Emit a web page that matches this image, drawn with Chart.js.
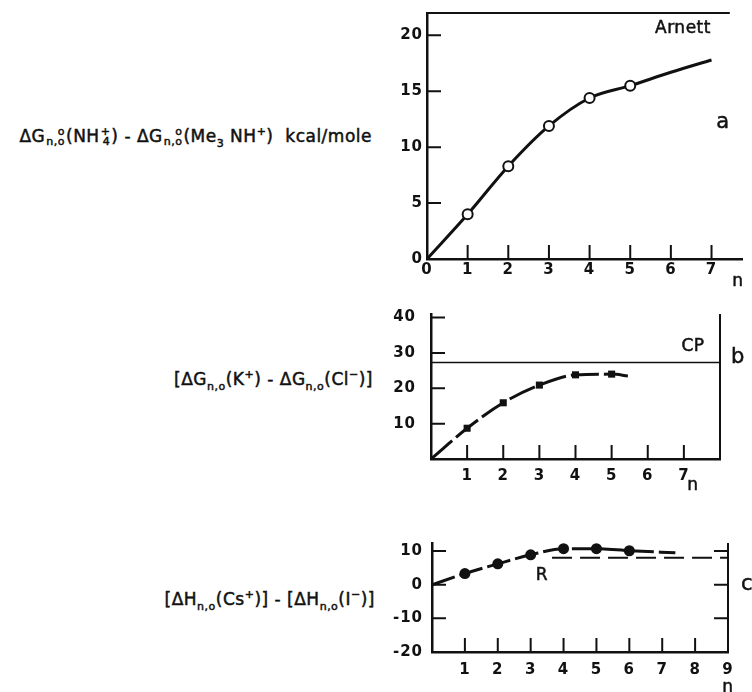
<!DOCTYPE html>
<html lang="en">
<head>
<meta charset="UTF-8">
<title>Hydration free energy differences</title>
<script src="https://cdn.jsdelivr.net/npm/chart.js@4"></script>
<style>
  body { margin: 0; background: #fff; }
  #wrap { position: relative; width: 752px; height: 692px; overflow: hidden; font-family: "DejaVu Sans", sans-serif; color: #111; -webkit-text-stroke: 0.5px #111; }
  canvas { position: absolute; }
  .lbl { position: absolute; white-space: nowrap; font-size: 17px; letter-spacing: 0.5px; transform: translateY(-50%); text-align: right; }
  .st { display: inline-flex; flex-direction: column; vertical-align: middle; font-size: 11px; line-height: 10px; margin: 0 1px; }
  .sb { font-size: 11px; vertical-align: -5px; }
  .sp { font-size: 11px; vertical-align: 7px; }
  .ann { position: absolute; font-size: 17px; letter-spacing: 0.5px; transform: translate(-50%, -50%); }
  .big { font-size: 21px; }
</style>
</head>
<body>
<div id="wrap">
  <canvas id="chartA" width="372" height="290" style="left:380px;top:0px"></canvas>
  <canvas id="chartB" width="372" height="200" style="left:380px;top:290px"></canvas>
  <canvas id="chartC" width="372" height="192" style="left:380px;top:500px"></canvas>

  <div class="lbl" style="right:380px;top:137px">ΔG<span class="st"><span>o</span><span>n,o</span></span>(NH<span class="st"><span>+</span><span>4</span></span>) - ΔG<span class="st"><span>o</span><span>n,o</span></span>(Me<span class="sb">3</span> NH<span class="sp">+</span>)&nbsp; kcal/mole</div>
  <div class="lbl" style="right:379px;top:380px">[ΔG<span class="sb">n,o</span>(K<span class="sp">+</span>) - ΔG<span class="sb">n,o</span>(Cl<span class="sp">−</span>)]</div>
  <div class="lbl" style="right:377px;top:600px">[ΔH<span class="sb">n,o</span>(Cs<span class="sp">+</span>)] - [ΔH<span class="sb">n,o</span>(I<span class="sp">−</span>)]</div>

  <div class="ann" style="left:683px;top:27px">Arnett</div>
  <div class="ann big" style="left:723px;top:121px">a</div>
  <div class="ann" style="left:738px;top:280px">n</div>
  <div class="ann" style="left:693px;top:345px">CP</div>
  <div class="ann big" style="left:738px;top:356px">b</div>
  <div class="ann" style="left:693px;top:484px">n</div>
  <div class="ann" style="left:542px;top:574px">R</div>
  <div class="ann big" style="left:747px;top:583px">c</div>
  <div class="ann" style="left:728px;top:686px">n</div>
</div>

<script>
// panel a: NH4+ vs Me3NH+ (Arnett)
const aCurveN = [0, 1, 2, 3, 4, 5, 6, 7];
const aCurveVal = [0, 4.0, 8.3, 11.9, 14.4, 15.5, 16.7, 17.8];
const aPointN = [1, 2, 3, 4, 5];
const aPointVal = [4.0, 8.3, 11.9, 14.4, 15.5];
const aXTicks = [0, 1, 2, 3, 4, 5, 6, 7];
const aYTicks = [0, 5, 10, 15, 20];

// panel b: K+ vs Cl-, CP level
const bCurveN = [0, 1, 2, 3, 4, 5, 5.45];
const bCurveVal = [0, 8.7, 15.9, 20.9, 23.8, 24.0, 23.5];
const bPointN = [1, 2, 3, 4, 5];
const bPointVal = [8.7, 15.9, 20.9, 23.8, 24.0];
const bCP = 27.3;
const bXTicks = [1, 2, 3, 4, 5, 6, 7];
const bYTicks = [10, 20, 30, 40];

// panel c: Cs+ vs I-, R level
const cCurveN = [0, 1, 2, 3, 4, 5, 6, 7.4];
const cCurveVal = [0, 3.3, 6.2, 8.9, 10.7, 10.7, 10.1, 9.5];
const cPointN = [1, 2, 3, 4, 5, 6];
const cPointVal = [3.3, 6.2, 8.9, 10.7, 10.7, 10.1];
const cR = 8.0;
const cRStart = 3.65;
const cXTicks = [1, 2, 3, 4, 5, 6, 7, 8, 9];
const cYTicks = [-20, -10, 0, 10];

const ink = '#111';
const tickFont = { family: '"DejaVu Sans", sans-serif', size: 15, weight: 'bold' };

function pts(xs, ys) {
  return xs.map((x, i) => ({ x: x, y: ys[i] }));
}

// inward tick marks and extra frame lines
const frame = {
  id: 'frame',
  beforeDraw(chart) {
    chart.ctx.letterSpacing = '1px';
  },
  afterDraw(chart, args, o) {
    const { ctx, chartArea: ca, scales: { x, y } } = chart;
    ctx.save();
    ctx.strokeStyle = ink;
    ctx.lineWidth = 2;
    ctx.beginPath();
    (o.xMarks || []).forEach(v => {
      const px = x.getPixelForValue(v);
      ctx.moveTo(px, ca.bottom); ctx.lineTo(px, ca.bottom - 14);
    });
    (o.leftMarks || []).forEach(v => {
      const py = y.getPixelForValue(v);
      ctx.moveTo(ca.left, py); ctx.lineTo(ca.left + 14, py);
    });
    (o.rightMarks || []).forEach(v => {
      const py = y.getPixelForValue(v);
      ctx.moveTo(ca.right, py); ctx.lineTo(ca.right - 14, py);
    });
    if (o.topTo != null) {
      ctx.moveTo(ca.left, ca.top); ctx.lineTo(x.getPixelForValue(o.topTo), ca.top);
    }
    if (o.right) {
      ctx.moveTo(ca.right, ca.top); ctx.lineTo(ca.right, ca.bottom);
    }
    ctx.stroke();
    ctx.restore();
  }
};

function makeChart(id, cfg) {
  return new Chart(document.getElementById(id), {
    type: 'scatter',
    data: { datasets: cfg.datasets },
    options: {
      responsive: false,
      animation: false,
      events: [],
      layout: { padding: cfg.pad },
      plugins: { legend: { display: false }, tooltip: { enabled: false }, frame: cfg.frame },
      scales: {
        x: {
          type: 'linear', min: cfg.xMin, max: cfg.xMax,
          grid: { display: false, drawTicks: false },
          border: { display: true, color: ink, width: 2.5 },
          afterBuildTicks: s => { s.ticks = cfg.xTicks.map(v => ({ value: v })); },
          afterFit: s => { s.height = cfg.xH; },
          ticks: { color: ink, font: tickFont, padding: cfg.xPad, maxRotation: 0, autoSkip: false }
        },
        y: {
          type: 'linear', min: cfg.yMin, max: cfg.yMax,
          grid: { display: false, drawTicks: false },
          border: { display: true, color: ink, width: 2.5 },
          afterBuildTicks: s => { s.ticks = cfg.yTicks.map(v => ({ value: v })); },
          afterFit: s => { s.width = cfg.yW; },
          ticks: { color: ink, font: tickFont, padding: cfg.yPad, autoSkip: false }
        }
      }
    },
    plugins: [frame]
  });
}

makeChart('chartA', {
  xMin: 0, xMax: 7.75, yMin: 0, yMax: 22,
  xTicks: aXTicks, yTicks: aYTicks,
  pad: { left: 0, right: 10, top: 12, bottom: 0 }, xH: 31, yW: 47, xPad: 2, yPad: 4,
  frame: { xMarks: [1, 2, 3, 4, 5, 6, 7], leftMarks: [5, 10, 15, 20], topTo: 7.45 },
  datasets: [
    { data: pts(aPointN, aPointVal), showLine: false, pointRadius: 5, pointBorderWidth: 2,
      pointBackgroundColor: '#fff', pointBorderColor: ink },
    { data: pts(aCurveN, aCurveVal), showLine: true, pointRadius: 0, borderColor: ink,
      borderWidth: 3, cubicInterpolationMode: 'monotone' }
  ]
});

makeChart('chartB', {
  xMin: 0, xMax: 8, yMin: 0, yMax: 41,
  xTicks: bXTicks, yTicks: bYTicks,
  pad: { left: 0, right: 32, top: 17, bottom: 0 }, xH: 31, yW: 51, xPad: 8, yPad: 15,
  frame: { xMarks: [1, 2, 3, 4, 5, 6, 7], leftMarks: [10, 20, 30, 40], right: true },
  datasets: [
    { data: pts(bPointN, bPointVal), showLine: false, pointStyle: 'rect', pointRadius: 5,
      pointBorderWidth: 0, pointBackgroundColor: ink },
    { data: pts(bCurveN, bCurveVal), showLine: true, pointRadius: 0, borderColor: ink,
      borderWidth: 3, borderDash: [28, 5], cubicInterpolationMode: 'monotone' },
    { data: pts([0, 8], [bCP, bCP]), showLine: true, pointRadius: 0, borderColor: ink, borderWidth: 1.5 }
  ]
});

makeChart('chartC', {
  xMin: 0, xMax: 9, yMin: -20, yMax: 12.4,
  xTicks: cXTicks, yTicks: cYTicks,
  pad: { left: 0, right: 24, top: 43, bottom: 0 }, xH: 40, yW: 52, xPad: 9, yPad: 9,
  frame: { xMarks: [1, 2, 3, 4, 5, 6, 7, 8], leftMarks: [10, 0, -10], rightMarks: [10, 0, -10], right: true },
  datasets: [
    { data: pts(cPointN, cPointVal), showLine: false, pointRadius: 5.5,
      pointBorderWidth: 0, pointBackgroundColor: ink },
    { data: pts(cCurveN, cCurveVal), showLine: true, pointRadius: 0, borderColor: ink,
      borderWidth: 3, borderDash: [24, 5], cubicInterpolationMode: 'monotone' },
    { data: pts([cRStart, 9], [cR, cR]), showLine: true, pointRadius: 0, borderColor: ink,
      borderWidth: 2, borderDash: [20, 8] }
  ]
});
</script>
</body>
</html>
